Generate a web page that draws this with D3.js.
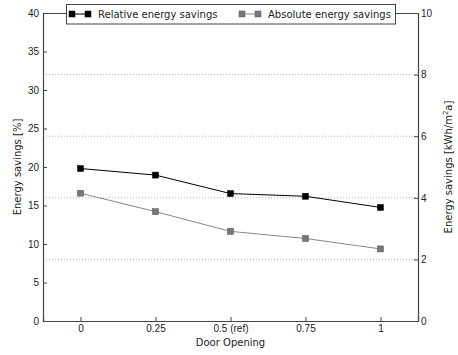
<!DOCTYPE html>
<html>
<head>
<meta charset="utf-8">
<script src="https://cdn.jsdelivr.net/npm/d3@7"></script>
<style>
  body { margin: 0; background: #fff; }
  svg { font-family: "DejaVu Sans", sans-serif; }
</style>
</head>
<body>
<div id="chart"></div>
<script>
const doorOpening = [0, 0.25, 0.5, 0.75, 1];
const xTickLabels = ["0", "0.25", "0.5 (ref)", "0.75", "1"];
const relativeSavings = [19.8, 18.95, 16.55, 16.2, 14.75];
const absoluteSavings = [4.15, 3.55, 2.91, 2.68, 2.34];
const leftTicks = [0, 5, 10, 15, 20, 25, 30, 35, 40];
const rightTicks = [0, 2, 4, 6, 8, 10];

const W = 458, H = 355;
const margin = { top: 13, right: 40, bottom: 34, left: 43 };
const width = 418 - margin.left;
const height = 321 - margin.top;
const textColor = "#222";
const spineColor = "#444";
const fontSize = "10px";

const svg = d3.select("#chart").append("svg")
  .attr("width", W)
  .attr("height", H)
  .style("font-size", fontSize);

const g = svg.append("g")
  .attr("transform", `translate(${margin.left},${margin.top})`);

const x = d3.scaleLinear().domain([-0.125, 1.125]).range([0, width]);
const yL = d3.scaleLinear().domain([0, 40]).range([height, 0]);
const yR = d3.scaleLinear().domain([0, 10]).range([height, 0]);

// grid from right axis ticks
g.append("g")
  .selectAll("line")
  .data(rightTicks.filter(d => d > 0 && d < 10))
  .join("line")
  .attr("x1", 0).attr("x2", width)
  .attr("y1", d => yR(d)).attr("y2", d => yR(d))
  .attr("stroke", "#999")
  .attr("stroke-width", 0.8)
  .attr("stroke-dasharray", "1,2");

// axes with inward ticks
const axL = g.append("g")
  .call(d3.axisLeft(yL).tickValues(leftTicks).tickSize(-4).tickPadding(4));
const axR = g.append("g")
  .attr("transform", `translate(${width},0)`)
  .call(d3.axisRight(yR).tickValues(rightTicks).tickSize(-4).tickPadding(3));
const axB = g.append("g")
  .attr("transform", `translate(0,${height})`)
  .call(d3.axisBottom(x).tickValues(doorOpening).tickFormat((d, i) => xTickLabels[i]).tickSize(-4).tickPadding(4));
const axT = g.append("g")
  .call(d3.axisTop(x).tickValues(doorOpening).tickFormat("").tickSize(0));

[axL, axR, axB, axT].forEach(a => {
  a.select(".domain").attr("stroke", spineColor).attr("stroke-width", 1.2);
  a.selectAll(".tick line").attr("stroke", spineColor);
  a.selectAll("text").attr("fill", textColor).style("font-size", fontSize);
});
axT.selectAll(".tick line").remove();

// series
const series = [
  { name: "Relative energy savings", values: relativeSavings, y: yL, line: "#000", fill: "#000", edge: "#000" },
  { name: "Absolute energy savings", values: absoluteSavings, y: yR, line: "#888", fill: "#777", edge: "#555" }
];

series.slice().reverse().forEach(s => {
  const line = d3.line().x((d, i) => x(doorOpening[i])).y(d => s.y(d));
  g.append("path")
    .datum(s.values)
    .attr("fill", "none")
    .attr("stroke", s.line)
    .attr("stroke-width", 1)
    .attr("d", line);
  g.append("g")
    .selectAll("rect")
    .data(s.values)
    .join("rect")
    .attr("x", (d, i) => x(doorOpening[i]) - 3)
    .attr("y", d => s.y(d) - 3)
    .attr("width", 6)
    .attr("height", 6)
    .attr("fill", s.fill)
    .attr("stroke", s.edge)
    .attr("stroke-width", 0.5);
});

// axis labels
svg.append("text")
  .attr("transform", `translate(21,${margin.top + height / 2}) rotate(-90)`)
  .attr("text-anchor", "middle")
  .attr("fill", textColor)
  .text("Energy savings [%]");

const rl = svg.append("text")
  .attr("transform", `translate(452,${margin.top + height / 2}) rotate(-90)`)
  .attr("text-anchor", "middle")
  .attr("fill", textColor);
rl.append("tspan").text("Energy savings [kWh/m");
rl.append("tspan").attr("dy", -4).style("font-size", "7px").text("2");
rl.append("tspan").attr("dy", 4).text("a]");

svg.append("text")
  .attr("x", margin.left + width / 2)
  .attr("y", 346)
  .attr("text-anchor", "middle")
  .attr("fill", textColor)
  .text("Door Opening");

// legend
const legend = svg.append("g");
legend.append("rect")
  .attr("x", 66.5).attr("y", 4.5)
  .attr("width", 329).attr("height", 19.5)
  .attr("fill", "#fff")
  .attr("stroke", spineColor)
  .attr("stroke-width", 1);
const legendX = [70, 240];
series.forEach((s, i) => {
  const lg = legend.append("g").attr("transform", `translate(${legendX[i]},14)`);
  lg.append("line").attr("x1", 2).attr("x2", 18).attr("stroke", s.line).attr("stroke-width", 1);
  [2, 18].forEach(px => lg.append("rect")
    .attr("x", px - 3).attr("y", -3).attr("width", 6).attr("height", 6)
    .attr("fill", s.fill).attr("stroke", s.edge).attr("stroke-width", 0.5));
  lg.append("text")
    .attr("x", 28).attr("dy", "0.35em")
    .attr("fill", textColor)
    .text(s.name);
});
</script>
</body>
</html>
